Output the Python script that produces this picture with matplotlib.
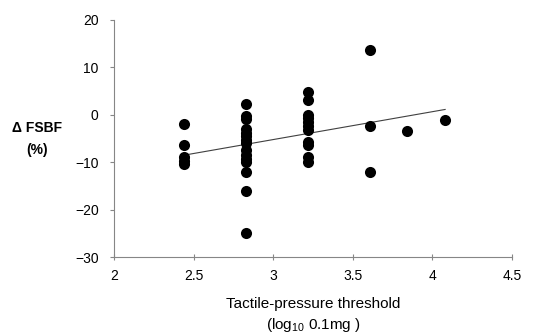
import numpy as np
import matplotlib
matplotlib.use("Agg")
import matplotlib.pyplot as plt

plt.rcParams['font.family'] = ['Liberation Sans', 'DejaVu Sans']
plt.rcParams['mathtext.fontset'] = 'custom'
plt.rcParams['mathtext.rm'] = 'Liberation Sans'
plt.rcParams['mathtext.it'] = 'Liberation Sans'

x_groups = [2.44, 2.83, 3.22, 3.61, 3.84, 4.08]
y_groups = [
    [-2.0, -6.5, -9.0, -9.8, -10.5],
    [2.2, -0.3, -1.0, -3.0, -3.8, -4.5, -5.3, -6.0, -7.5, -8.5, -9.3, -10.0, -12.0, -16.0, -25.0],
    [4.8, 3.0, 0.0, -0.8, -1.6, -2.4, -3.2, -5.8, -6.5, -9.0, -10.0],
    [13.5, -2.5, -12.0],
    [-3.5],
    [-1.2],
]
xticks = [2, 2.5, 3, 3.5, 4, 4.5]
xtick_labels = ['2', '2.5', '3', '3.5', '4', '4.5']
yticks = [-30, -20, -10, 0, 10, 20]

xs = np.concatenate([[xv] * len(ys) for xv, ys in zip(x_groups, y_groups)])
ys = np.concatenate(y_groups)

fig = plt.figure(figsize=(5.35, 3.34), dpi=100)
ax = fig.add_axes([0.213, 0.2305, 0.744, 0.711])
ax.scatter(xs, ys, s=64, color='black', zorder=3, linewidths=0)

slope, intercept = np.polyfit(xs, ys, 1)
xl = np.array([xs.min(), xs.max()])
ax.plot(xl, slope * xl + intercept, color='#404040', lw=0.8, zorder=2)

ax.set_xlim(2, 4.5)
ax.set_ylim(-30, 20)
ax.set_xticks(xticks)
ax.set_xticklabels(xtick_labels)
ax.set_yticks(yticks)
for s in ['top', 'right']:
    ax.spines[s].set_visible(False)
for s in ['left', 'bottom']:
    ax.spines[s].set_color('#868686')
    ax.spines[s].set_linewidth(0.8)
ax.tick_params(axis='y', colors='#868686', labelcolor='black', labelsize=10,
               direction='out', length=3, width=0.8, pad=8)
ax.tick_params(axis='x', colors='#868686', labelcolor='black', labelsize=10,
               direction='inout', length=5, width=0.8, pad=6)

fig.text(0.07, 0.617, '\u0394 FSBF', ha='center', va='center', fontsize=10, fontweight='bold')
fig.text(0.07, 0.55, '(%)', ha='center', va='center', fontsize=10, fontweight='bold')
fig.text(0.585, 0.09, 'Tactile-pressure threshold', ha='center', va='center', fontsize=11)
fig.text(0.585, 0.027, r'(log$_{10}$ 0.1mg )', ha='center', va='center', fontsize=11)

fig.savefig('out.png', dpi=100)
